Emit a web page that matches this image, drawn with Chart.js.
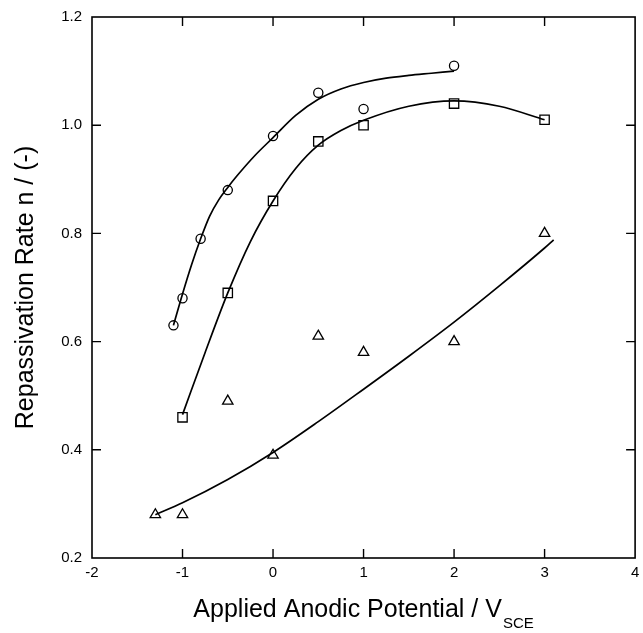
<!DOCTYPE html>
<html>
<head>
<meta charset="utf-8">
<script src="https://cdn.jsdelivr.net/npm/chart.js@4"></script>
<style>
  html, body { margin: 0; padding: 0; background: #fff; }
  #wrap { width: 643px; height: 633px; position: relative; }
</style>
</head>
<body>
<div id="wrap"><canvas id="chart"></canvas></div>
<script>
'use strict';

// ── Data ──────────────────────────────────────────────────────────────────────

const xTicks = [-2, -1, 0, 1, 2, 3, 4];
const yTicks = [0.2, 0.4, 0.6, 0.8, 1.0, 1.2];

// measured points
const circleX = [-1.1, -1.0, -0.8, -0.5, 0, 0.5, 1.0, 2.0];
const circleY = [0.63, 0.68, 0.79, 0.88, 0.98, 1.06, 1.03, 1.11];

const squareX = [-1.0, -0.5, 0, 0.5, 1.0, 2.0, 3.0];
const squareY = [0.46, 0.69, 0.86, 0.97, 1.00, 1.04, 1.01];

const triX = [-1.3, -1.0, -0.5, 0, 0.5, 1.0, 2.0, 3.0];
const triY = [0.28, 0.28, 0.49, 0.39, 0.61, 0.58, 0.60, 0.80];

// fitted curves
const circleFitX = [-1.1, -1.0, -0.9, -0.8, -0.7, -0.6, -0.5, -0.4, -0.2, 0, 0.25, 0.5, 0.75, 1.0, 1.25, 1.5, 1.75, 2.0];
const circleFitY = [0.63, 0.688, 0.742, 0.79, 0.832, 0.862, 0.885, 0.906, 0.944, 0.977, 1.018, 1.048, 1.067, 1.079, 1.087, 1.092, 1.096, 1.10];

const squareFitX = [-1.0, -0.75, -0.5, -0.25, 0, 0.25, 0.5, 0.75, 1.0, 1.5, 2.0, 2.5, 3.0];
const squareFitY = [0.465, 0.58, 0.69, 0.785, 0.86, 0.92, 0.963, 0.99, 1.009, 1.035, 1.045, 1.035, 1.01];

const triFitX = [-1.3, -1.0, -0.5, 0, 0.5, 1.0, 1.5, 2.0, 2.5, 3.0, 3.1];
const triFitY = [0.28, 0.302, 0.345, 0.395, 0.452, 0.512, 0.573, 0.636, 0.703, 0.773, 0.788];

// ── Helpers ───────────────────────────────────────────────────────────────────

const pts = (xs, ys) => xs.map((x, i) => ({ x, y: ys[i] }));

const FONT = '"Liberation Sans", Arial, sans-serif';

function curve(xs, ys) {
  return {
    data: pts(xs, ys),
    showLine: true,
    borderColor: '#000',
    borderWidth: 1.7,
    pointRadius: 0,
    cubicInterpolationMode: 'monotone',
    fill: false,
  };
}

function markers(xs, ys, style, radius) {
  return {
    data: pts(xs, ys),
    showLine: false,
    pointStyle: style,
    pointRadius: radius,
    pointBorderColor: '#000',
    pointBackgroundColor: 'rgba(255,255,255,0)',
    pointBorderWidth: 1.3,
  };
}

// ── Frame, inward ticks and axis titles ───────────────────────────────────────

const framePlugin = {
  id: 'frame',
  afterDraw(chart) {
    const { ctx, chartArea: a, scales: { x, y } } = chart;
    const len = 9;
    ctx.save();
    ctx.strokeStyle = '#000';
    ctx.lineWidth = 1.6;
    ctx.strokeRect(a.left, a.top, a.right - a.left, a.bottom - a.top);

    ctx.lineWidth = 1.4;
    ctx.beginPath();
    x.ticks.forEach(t => {
      const px = x.getPixelForValue(t.value);
      if (px <= a.left + 1 || px >= a.right - 1) return;
      ctx.moveTo(px, a.bottom); ctx.lineTo(px, a.bottom - len);
      ctx.moveTo(px, a.top);    ctx.lineTo(px, a.top + len);
    });
    y.ticks.forEach(t => {
      const py = y.getPixelForValue(t.value);
      if (py <= a.top + 1 || py >= a.bottom - 1) return;
      ctx.moveTo(a.left, py);  ctx.lineTo(a.left + len, py);
      ctx.moveTo(a.right, py); ctx.lineTo(a.right - len, py);
    });
    ctx.stroke();

    ctx.fillStyle = '#000';
    ctx.textBaseline = 'alphabetic';

    // y title
    ctx.save();
    ctx.translate(33, (a.top + a.bottom) / 2);
    ctx.rotate(-Math.PI / 2);
    ctx.font = '25px ' + FONT;
    ctx.textAlign = 'center';
    ctx.fillText('Repassivation Rate n / (-)', 0, 0);
    ctx.restore();

    // x title with subscript
    const main = 'Applied Anodic Potential / V';
    const sub  = 'SCE';
    ctx.font = '25px ' + FONT;
    const wMain = ctx.measureText(main).width;
    ctx.font = '15px ' + FONT;
    const wSub = ctx.measureText(sub).width;
    const x0 = (a.left + a.right) / 2 - (wMain + wSub + 1) / 2;
    ctx.textAlign = 'left';
    ctx.font = '25px ' + FONT;
    ctx.fillText(main, x0, 617);
    ctx.font = '15px ' + FONT;
    ctx.fillText(sub, x0 + wMain + 1, 628);
    ctx.restore();
  },
};

// ── Chart ─────────────────────────────────────────────────────────────────────

new Chart(document.getElementById('chart'), {
  type: 'scatter',
  data: {
    datasets: [
      curve(circleFitX, circleFitY),
      curve(squareFitX, squareFitY),
      curve(triFitX, triFitY),
      markers(circleX, circleY, 'circle', 4.6),
      markers(squareX, squareY, 'rect', 6.6),
      markers(triX, triY, 'triangle', 6),
    ],
  },
  options: {
    responsive: true,
    maintainAspectRatio: false,
    animation: false,
    layout: { padding: { top: 17, right: 7, left: 0, bottom: 0 } },
    plugins: { legend: { display: false }, tooltip: { enabled: false } },
    scales: {
      x: {
        type: 'linear',
        min: xTicks[0],
        max: xTicks[xTicks.length - 1],
        afterBuildTicks: s => { s.ticks = xTicks.map(v => ({ value: v })); },
        afterFit: s => { s.height = 75; s.paddingLeft = 0; s.paddingRight = 0; },
        grid: { display: false, drawTicks: false },
        border: { display: false },
        ticks: {
          color: '#000',
          padding: 6,
          font: { family: FONT, size: 15 },
          callback: v => String(v),
        },
      },
      y: {
        type: 'linear',
        min: yTicks[0],
        max: yTicks[yTicks.length - 1],
        afterBuildTicks: s => { s.ticks = yTicks.map(v => ({ value: v })); },
        afterFit: s => { s.width = 92; s.paddingTop = 0; s.paddingBottom = 0; },
        grid: { display: false, drawTicks: false },
        border: { display: false },
        ticks: {
          color: '#000',
          padding: 10,
          font: { family: FONT, size: 15 },
          callback: v => v.toFixed(1),
        },
      },
    },
  },
  plugins: [framePlugin],
});
</script>
</body>
</html>
